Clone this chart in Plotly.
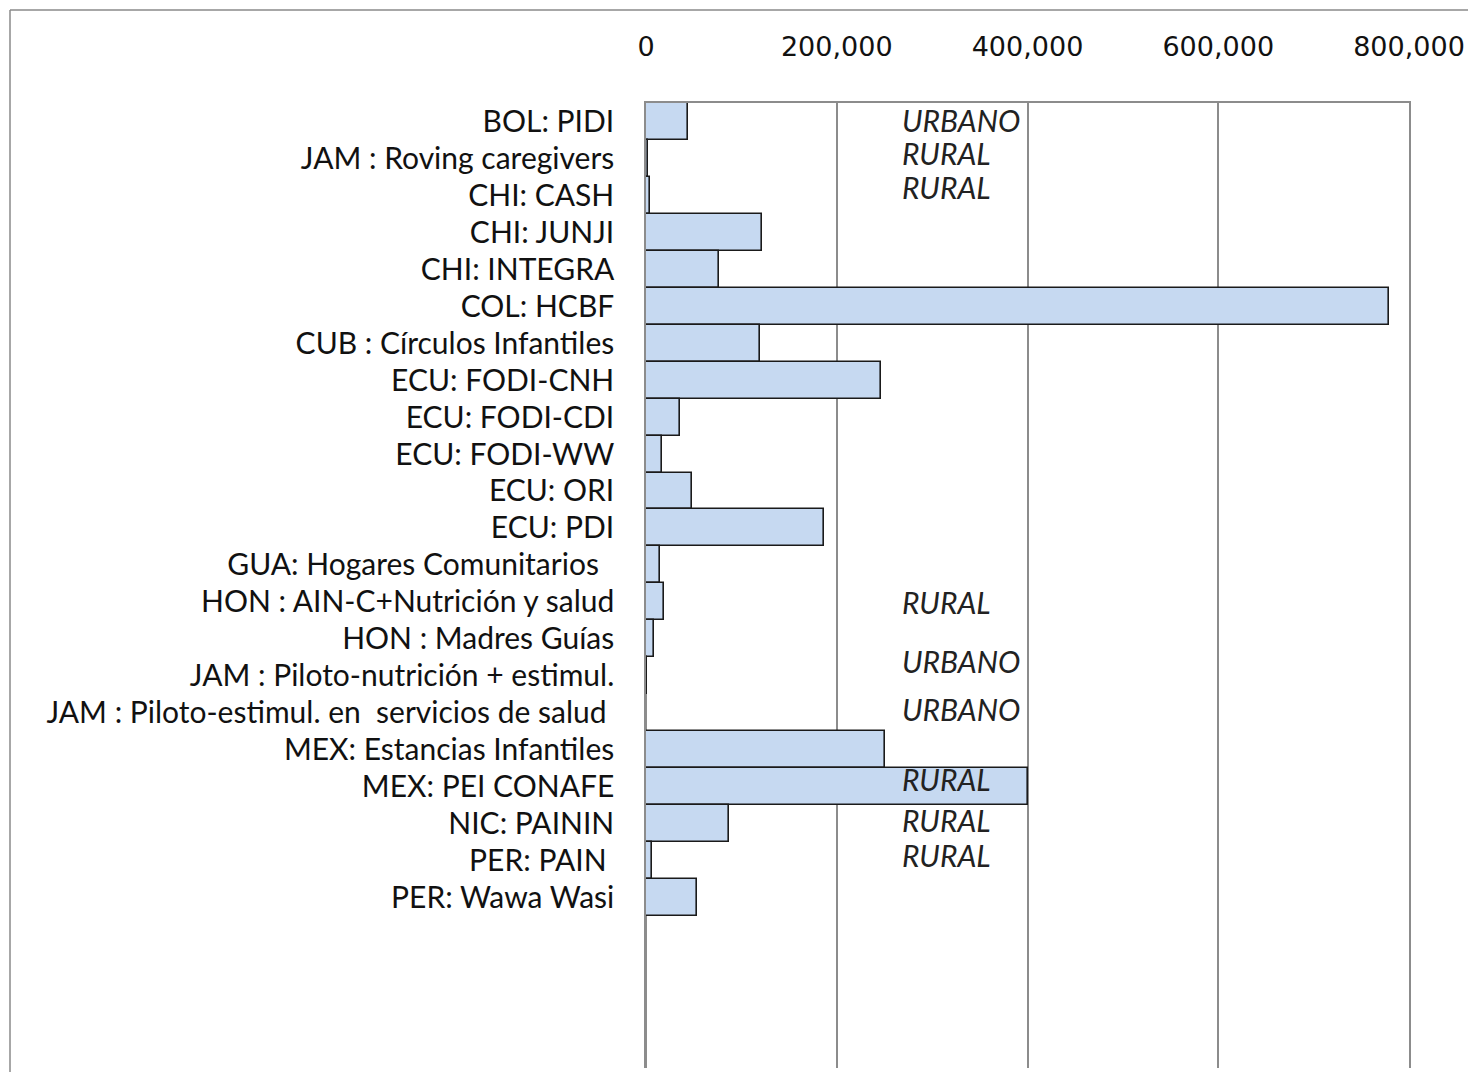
import plotly.graph_objects as go

categories = [
    "BOL: PIDI",
    "JAM : Roving caregivers",
    "CHI: CASH",
    "CHI: JUNJI",
    "CHI: INTEGRA",
    "COL: HCBF",
    "CUB : Círculos Infantiles",
    "ECU: FODI-CNH",
    "ECU: FODI-CDI",
    "ECU: FODI-WW",
    "ECU: ORI",
    "ECU: PDI",
    "GUA: Hogares Comunitarios  ",
    "HON : AIN-C+Nutrición y salud",
    "HON : Madres Guías",
    "JAM : Piloto-nutrición + estimul.",
    "JAM : Piloto-estimul. en  servicios de salud ",
    "MEX: Estancias Infantiles",
    "MEX: PEI CONAFE",
    "NIC: PAININ",
    "PER: PAIN ",
    "PER: Wawa Wasi",
]
values = [44000, 2000, 4000, 122000, 76500, 779000, 119500, 246500, 35500,
          16500, 48000, 186500, 14500, 19000, 8500, 1500, 300, 250500,
          400000, 87000, 6000, 53000]

note_texts = ["URBANO", "RURAL", "RURAL", "RURAL", "URBANO", "URBANO",
              "RURAL", "RURAL", "RURAL"]
note_rows = [-0.05, 0.86, 1.76, 13.0, 14.6, 15.9, 17.8, 18.9, 19.85]
note_x = 266000

# page has an 8px body margin; figure coordinates are page minus 8
W, H = 1468, 1064
L, R, T, B = 638, 67, 95, 4
pw, ph = W - L - R, H - T - B

fig = go.Figure()
fig.add_trace(go.Bar(
    y=categories, x=values, orientation="h",
    marker=dict(color="#C6D9F1", line=dict(color="#1a1a1a", width=1.6)),
    hoverinfo="x+y",
))

for t, r in zip(note_texts, note_rows):
    fig.add_annotation(x=note_x, y=r, xref="x", yref="y", text="<i>" + t + "</i>",
                       showarrow=False, xanchor="left", yanchor="middle",
                       font=dict(family="Lato", size=30, color="#222222"))

def px2x(p):
    return (p - L) / pw

def py2y(p):
    return 1 - (p - T) / ph

# outer chart frame (left and top edges visible)
fig.add_shape(type="line", xref="paper", yref="paper",
              x0=px2x(2), x1=px2x(2), y0=py2y(H + 5), y1=py2y(2),
              line=dict(color="#8a8a8a", width=1.5))
fig.add_shape(type="line", xref="paper", yref="paper",
              x0=px2x(2), x1=px2x(W + 5), y0=py2y(2), y1=py2y(2),
              line=dict(color="#8a8a8a", width=1.5))

n_bands = ph / 36.95
fig.update_layout(
    width=W, height=H,
    margin=dict(l=L, r=R, t=T, b=B, pad=0),
    paper_bgcolor="white", plot_bgcolor="white",
    bargap=0, showlegend=False,
    xaxis=dict(side="top", range=[0, 800000], dtick=200000, tick0=0,
               tickformat=",", showgrid=True, gridcolor="#8c8c8c", gridwidth=1.5,
               zeroline=True, zerolinecolor="#8c8c8c", zerolinewidth=1.5,
               showline=True, linecolor="#8c8c8c", linewidth=1.5,
               ticks="outside", ticklen=34, tickcolor="rgba(0,0,0,0)",
               tickfont=dict(family="DejaVu Sans", size=27, color="#111111")),
    yaxis=dict(type="category", categoryorder="array", categoryarray=categories,
               range=[n_bands - 0.5, -0.5], showgrid=False, zeroline=False,
               showline=True, linecolor="#8c8c8c", linewidth=1.5, mirror=True,
               ticks="outside", ticklen=24, tickcolor="rgba(0,0,0,0)",
               tickfont=dict(family="Lato", size=30, color="#111111")),
)

fig.write_html("out.html")
